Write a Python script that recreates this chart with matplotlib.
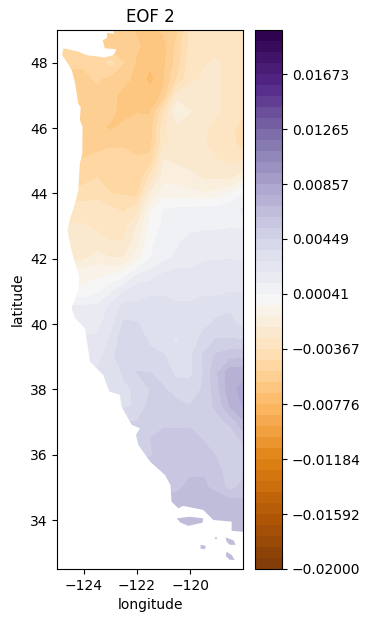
import numpy as np
import matplotlib
matplotlib.use("Agg")
import matplotlib.pyplot as plt
from matplotlib.path import Path
from matplotlib.patches import PathPatch

# field values, in units of 1e-3
lons = [-125, -124.5, -124, -123.5, -123, -122.5, -122, -121.5, -121, -120.5, -120, -119.5, -119, -118.5, -118]
lats = [49, 48.5, 48, 47.5, 47, 46.5, 46, 45.5, 45, 44.5, 44, 43.5, 43, 42.5, 42, 41.5, 41,
        40.5, 40, 39.5, 39, 38.5, 38, 37.5, 37, 36.5, 36, 35.5, 35, 34.5, 34, 33.5, 33, 32.5]
eof2 = [
    [-5.5, -5.5, -5.5, -5.5, -5.8, -6.0, -6.2, -6.2, -6.0, -5.5, -3.5, -3.0, -3.0, -3.0, -3.2],
    [-5.2, -5.2, -5.2, -5.5, -5.8, -6.0, -6.0, -6.5, -6.5, -5.0, -3.5, -3.0, -3.0, -3.0, -3.2],
    [-5.2, -5.2, -5.2, -5.0, -4.2, -5.3, -6.3, -6.8, -6.3, -5.0, -3.2, -2.9, -2.8, -3.0, -3.4],
    [-5.5, -5.5, -5.5, -5.2, -5.6, -5.8, -6.5, -7.2, -6.2, -4.5, -3.0, -2.8, -2.8, -3.0, -3.4],
    [-5.5, -5.5, -5.5, -5.6, -5.8, -6.5, -7.0, -6.6, -6.0, -2.5, -2.6, -2.7, -2.8, -3.0, -3.5],
    [-5.6, -5.6, -5.6, -5.8, -6.0, -6.3, -6.2, -6.2, -3.8, -1.2, -2.0, -2.6, -2.8, -3.0, -3.4],
    [-5.8, -5.8, -5.8, -6.0, -6.2, -6.0, -5.6, -5.8, -3.0, -2.4, -2.6, -2.8, -3.0, -3.4, -4.2],
    [-6.0, -6.0, -6.0, -5.6, -5.4, -5.4, -5.6, -5.6, -3.0, -2.6, -2.6, -2.8, -3.2, -3.4, -4.0],
    [-5.2, -5.2, -5.2, -5.0, -5.0, -5.0, -5.2, -5.0, -2.0, -2.2, -2.4, -2.4, -2.8, -3.0, -3.0],
    [-4.8, -4.8, -4.8, -4.5, -4.6, -5.0, -5.2, -3.5, -1.6, -1.6, -1.8, -2.2, -2.2, -2.4, -1.6],
    [-4.2, -4.2, -4.2, -4.0, -4.5, -4.6, -4.8, -2.0, -0.8, -0.8, -1.0, -1.2, -1.0, -0.4, 0.4],
    [-3.2, -3.2, -3.2, -3.2, -3.5, -3.8, -3.2, -0.6, 0.4, 0.6, 0.6, 0.8, 0.8, 1.0, 1.3],
    [-2.8, -2.8, -2.8, -3.0, -3.4, -3.2, -2.0, -0.2, 0.6, 0.9, 1.0, 1.1, 1.1, 1.1, 1.1],
    [-2.6, -2.6, -2.6, -2.6, -2.8, -2.8, -1.6, 0.2, 0.8, 1.1, 1.5, 1.5, 1.6, 1.8, 1.8],
    [-2.2, -2.2, -2.2, -1.6, -2.0, -2.0, -0.8, 0.4, 1.0, 1.4, 1.8, 2.0, 2.0, 2.0, 2.0],
    [-0.6, -0.6, -0.6, -0.6, -0.4, 0.0, 1.2, 1.6, 2.2, 2.4, 2.2, 2.2, 2.4, 2.6, 2.4],
    [-0.3, -0.3, -0.3, 0.2, 1.0, 2.0, 2.6, 2.8, 2.8, 2.6, 2.6, 2.6, 2.6, 2.8, 2.8],
    [1.5, 1.5, 1.5, 1.5, 2.2, 3.2, 3.0, 3.0, 3.0, 3.0, 3.0, 3.5, 3.5, 3.6, 3.4],
    [1.5, 1.5, 1.5, 1.8, 2.5, 3.8, 3.8, 2.8, 3.2, 3.0, 3.2, 3.5, 3.8, 3.8, 3.5],
    [2.2, 2.2, 2.2, 2.2, 3.0, 4.2, 4.2, 3.5, 3.0, 2.8, 3.2, 4.0, 4.6, 4.6, 4.5],
    [2.5, 2.5, 2.5, 2.5, 3.4, 4.2, 4.4, 4.0, 3.8, 3.0, 3.5, 4.6, 5.5, 5.8, 6.0],
    [3.0, 3.0, 3.0, 3.0, 3.0, 3.8, 4.5, 4.5, 4.0, 3.5, 3.5, 4.5, 6.0, 7.5, 7.5],
    [3.5, 3.5, 3.5, 3.5, 3.5, 3.5, 3.8, 4.5, 4.6, 4.0, 4.0, 4.6, 5.8, 7.5, 8.0],
    [3.5, 3.5, 3.5, 3.5, 3.5, 3.5, 3.8, 4.8, 5.0, 4.8, 4.5, 4.8, 5.5, 7.0, 7.8],
    [4.5, 4.5, 4.5, 4.5, 4.5, 4.5, 4.5, 5.0, 5.0, 5.0, 5.0, 5.0, 5.0, 5.5, 6.8],
    [4.5, 4.5, 4.5, 4.5, 4.5, 4.5, 4.5, 5.3, 5.8, 5.8, 5.8, 5.2, 4.8, 4.6, 5.6],
    [5.2, 5.2, 5.2, 5.2, 5.2, 5.2, 5.2, 5.2, 5.8, 6.0, 6.0, 5.8, 5.2, 4.5, 4.8],
    [5.8, 5.8, 5.8, 5.8, 5.8, 5.8, 5.8, 5.8, 5.8, 6.0, 6.0, 6.0, 5.6, 4.8, 5.0],
    [6.0, 6.0, 6.0, 6.0, 6.0, 6.0, 6.0, 6.0, 6.0, 6.0, 6.3, 6.3, 5.8, 5.0, 5.6],
    [6.4, 6.4, 6.4, 6.4, 6.4, 6.4, 6.4, 6.4, 6.4, 6.4, 6.8, 6.8, 6.8, 6.6, 6.4],
    [6.8, 6.8, 6.8, 6.8, 6.8, 6.8, 6.8, 6.8, 6.8, 6.8, 6.8, 6.8, 6.8, 6.8, 6.8],
    [6.6, 6.6, 6.6, 6.6, 6.6, 6.6, 6.6, 6.6, 6.6, 6.6, 6.6, 6.6, 6.6, 6.6, 6.6],
    [6.6, 6.6, 6.6, 6.6, 6.6, 6.6, 6.6, 6.6, 6.6, 6.6, 6.6, 6.6, 6.6, 6.6, 6.6],
    [6.6, 6.6, 6.6, 6.6, 6.6, 6.6, 6.6, 6.6, 6.6, 6.6, 6.6, 6.6, 6.6, 6.6, 6.6],
]

# coastline, ending on the eastern edge of the domain
coast_lon = [-122.89, -122.87, -123.12, -123.14, -123.29, -123.21, -122.77, -122.89, -123.21, -123.90,
             -124.21, -124.77, -124.82, -124.65, -124.46, -124.33, -124.21, -124.12, -124.15, -124.05,
             -124.06, -124.15, -124.21, -124.33, -124.50, -124.62, -124.50, -124.33, -124.17, -124.21,
             -124.33, -124.46, -124.33, -123.96, -123.87, -123.77, -123.27, -123.04, -122.64, -122.58,
             -122.20, -121.89, -122.04, -121.95, -121.51, -120.95, -120.74, -120.70, -120.45, -120.26,
             -119.51, -119.13, -118.44, -118.44, -118.03, -117.9, -117.9]
coast_lat = [49.02, 48.88, 48.92, 48.75, 48.69, 48.44, 48.41, 48.23, 48.16, 48.23,
             48.34, 48.44, 48.23, 48.03, 47.78, 47.37, 46.75, 46.63, 46.25, 46.04,
             45.22, 44.92, 44.10, 43.69, 43.28, 42.88, 42.37, 41.86, 41.45, 41.04,
             40.79, 40.48, 40.18, 39.87, 39.41, 38.85, 38.44, 37.93, 37.83, 37.47,
             36.91, 36.81, 36.60, 36.30, 35.79, 35.38, 35.07, 34.56, 34.36, 34.43,
             34.31, 34.00, 33.95, 33.67, 33.64, 33.64, 49.02]

islands = [
    ([-120.51, -120.01, -119.51, -119.53, -120.07, -120.36], [34.05, 34.10, 34.05, 33.92, 33.82, 33.92]),
    ([-119.07, -118.99, -118.99, -119.07], [33.47, 33.47, 33.42, 33.42]),
    ([-118.66, -118.36, -118.29, -118.51, -118.63], [33.47, 33.37, 33.24, 33.24, 33.34]),
    ([-119.61, -119.41, -119.45, -119.61], [33.24, 33.21, 33.10, 33.13]),
    ([-118.63, -118.44, -118.32, -118.51, -118.66], [33.03, 32.93, 32.78, 32.78, 32.90]),
]

cbar_ticks = [-0.02, -0.01592, -0.01184, -0.00776, -0.00367, 0.00041, 0.00449, 0.00857, 0.01265, 0.01673]
cbar_labels = ["\u22120.02000", "\u22120.01592", "\u22120.01184", "\u22120.00776", "\u22120.00367",
               "0.00041", "0.00449", "0.00857", "0.01265", "0.01673"]


def land_path():
  pieces = [Path(np.column_stack([coast_lon, coast_lat]), closed=False)]
  for x, y in islands:
    pts = np.column_stack([x + x[:1], y + y[:1]])
    pieces.append(Path(pts))
  return Path.make_compound_path(*pieces)


W, H = 370, 622
fig = plt.figure(figsize=(W/100, H/100), dpi=100)
ax = fig.add_axes([57.3/W, 1-569/H, 186/W, 539/H])
cax = fig.add_axes([255/W, 1-569/H, 27/W, 539/H])

levels = np.linspace(-0.02, 0.02, 50)
X, Y = np.meshgrid(lons, lats)
cs = ax.contourf(X, Y, np.array(eof2)*1e-3, levels=levels, cmap="PuOr")
clip = PathPatch(land_path(), transform=ax.transData, fc="none", ec="none")
ax.add_patch(clip)
cs.set_clip_path(clip)

ax.set_xlim(-125, -118)
ax.set_ylim(32.5, 49)
ax.set_xticks([-124, -122, -120])
ax.set_yticks([34, 36, 38, 40, 42, 44, 46, 48])
ax.set_xlabel("longitude")
ax.set_ylabel("latitude")
ax.set_title("EOF 2")

cbar = fig.colorbar(cs, cax=cax)
cbar.set_ticks(cbar_ticks, labels=cbar_labels)
cbar.minorticks_off()

fig.savefig("out.png", dpi=100)
